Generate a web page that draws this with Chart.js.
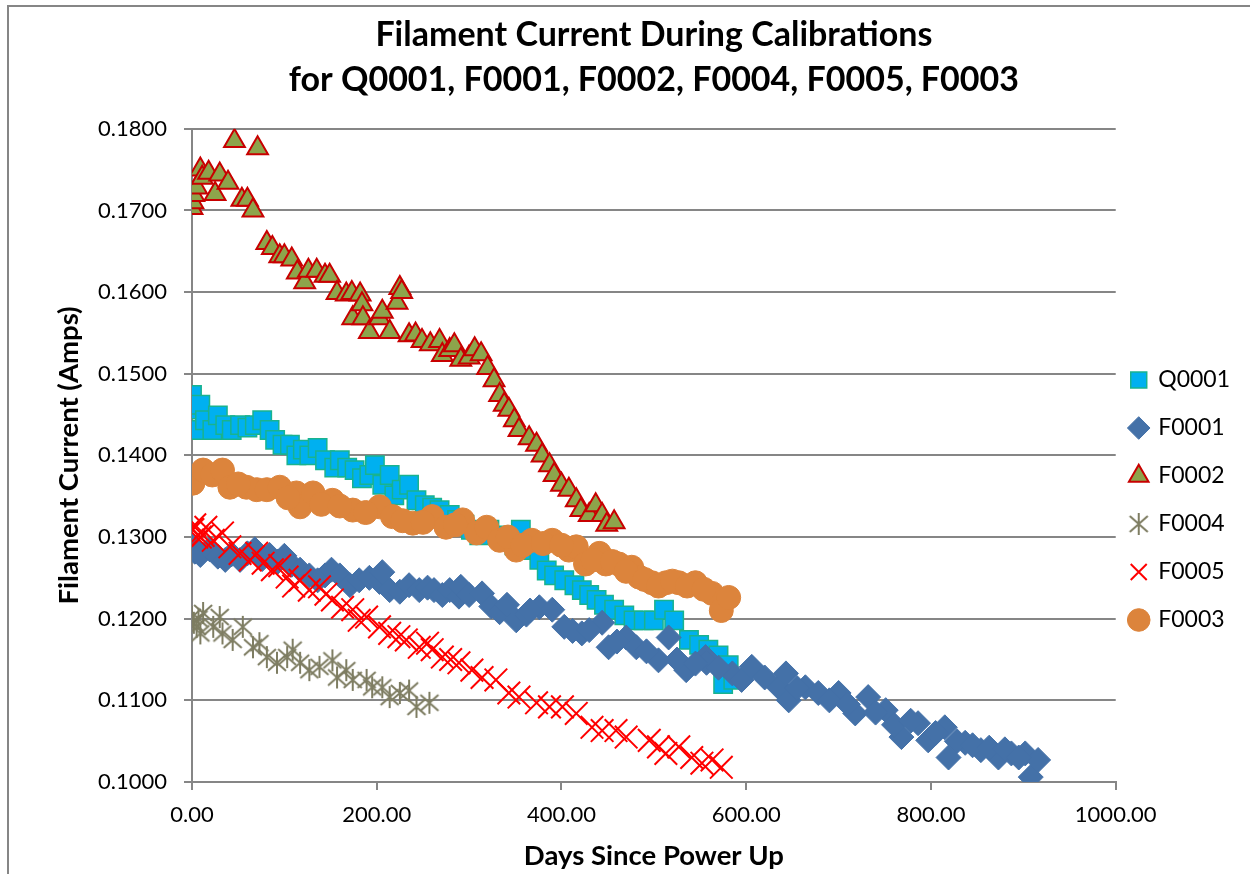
<!DOCTYPE html>
<html>
<head>
<meta charset="utf-8">
<title>Filament Current During Calibrations</title>
<script src="https://cdn.jsdelivr.net/npm/chart.js@4.4.0/dist/chart.umd.min.js"></script>
<style>
  html, body { margin: 0; padding: 0; background: #fff; overflow: hidden; }
  #frame { position: absolute; left: 7px; top: 5px; width: 1241px; height: 880px; border: 2px solid #868686; }
  canvas { display: block; }
</style>
</head>
<body>
<div id="frame"><canvas id="myChart"></canvas></div>
<script>
// series names, in legend order
const seriesNames = ["Q0001", "F0001", "F0002", "F0004", "F0005", "F0003"];

// Q0001
const q0001Days = [0,0,3,9,14,22,28,36,43,52, 60,68,76,84,90,98,106,113,120,127,
  136,144,154,160,168,176,184,192,198,206, 214,219,227,235,243,252,260,268,279,287,
  295,302,311,322,333,341,349,356,365,376, 384,392,403,414,422,430,438,446,457,468,
  478,489,500,511,522,538,549,559,570,575, 581,586];
const q0001Amps = [0.1474,0.1456,0.1431,0.1462,0.1443,0.1431,0.1449,0.1437,0.1431,0.1437,
  0.1434,0.1437,0.1443,0.1431,0.1419,0.1413,0.1413,0.1400,0.1407,0.1400,
  0.1409,0.1394,0.1385,0.1394,0.1385,0.1382,0.1372,0.1376,0.1388,0.1364,
  0.1376,0.1351,0.1358,0.1364,0.1345,0.1339,0.1336,0.1333,0.1327,0.1321,
  0.1315,0.1309,0.1302,0.1309,0.1302,0.1296,0.1290,0.1309,0.1284,0.1272,
  0.1259,0.1253,0.1247,0.1241,0.1235,0.1229,0.1223,0.1217,0.1211,0.1204,
  0.1198,0.1198,0.1198,0.1211,0.1198,0.1174,0.1168,0.1162,0.1155,0.1120,
  0.1143,0.1125];

// F0001
const f0001Days = [0,3,9,19,28,36,43,52,60,68, 76,84,93,100,108,117,127,136,144,151,
  160,171,181,192,203,206,214,225,235,246, 255,262,271,279,289,291,300,314,324,333,
  341,351,376,390,403,422,444,451,470,481, 505,516,535,556,557,585,595,606,635,643,
  646,664,678,700,718,732,751,768,786,797, 815,819,837,854,873,887,902,908,916,
  362,366,412,430,460,492,525,545,570,620, 655,690,710,740,760,778,805,828,845,863, 880,895];
const f0001Amps = [0.1290,0.1282,0.1278,0.1285,0.1276,0.1272,0.1279,0.1272,0.1280,0.1285,
  0.1273,0.1278,0.1270,0.1277,0.1266,0.1260,0.1253,0.1247,0.1253,0.1260,
  0.1253,0.1241,0.1247,0.1250,0.1245,0.1257,0.1235,0.1233,0.1241,0.1235,
  0.1238,0.1235,0.1229,0.1235,0.1227,0.1239,0.1229,0.1231,0.1215,0.1208,
  0.1217,0.1198,0.1214,0.1211,0.1190,0.1182,0.1195,0.1165,0.1177,0.1165,
  0.1149,0.1177,0.1137,0.1153,0.1146,0.1133,0.1125,0.1141,0.1116,0.1133,
  0.1100,0.1116,0.1109,0.1109,0.1084,0.1104,0.1088,0.1055,0.1072,0.1051,
  0.1067,0.1030,0.1048,0.1039,0.1030,0.1035,0.1035,0.1006,0.1027,
  0.1205,0.1210,0.1185,0.1186,0.1172,0.1160,0.1150,0.1145,0.1140,0.1128,
  0.1115,0.1100,0.1095,0.1085,0.1070,0.1075,0.1060,0.1050,0.1045,0.1042, 0.1040,0.1030];

// F0002
const f0002Days = [0,1,2,5,9,11,18,25,30,39, 46,54,60,66,71,81,87,95,100,108,
  114,122,126,135,144,149,157,167,173,174, 182,184,185,192,203,206,214,222,225,227,
  235,242,249,258,268,271,279,284,291,300, 306,313,320,327,333,338,343,349,354,365,
  373,379,387,392,400,408,416,421,430,437, 444,449,457];
const f0002Amps = [0.1703,0.1710,0.1719,0.1728,0.1750,0.1740,0.1746,0.1720,0.1744,0.1734,
  0.1785,0.1713,0.1713,0.1700,0.1776,0.1660,0.1654,0.1644,0.1644,0.1640,
  0.1624,0.1612,0.1626,0.1626,0.1620,0.1620,0.1599,0.1597,0.1599,0.1568,
  0.1597,0.1585,0.1568,0.1551,0.1568,0.1576,0.1551,0.1587,0.1605,0.1600,
  0.1547,0.1548,0.1540,0.1536,0.1540,0.1523,0.1529,0.1535,0.1517,0.1520,
  0.1530,0.1524,0.1507,0.1492,0.1474,0.1462,0.1456,0.1443,0.1431,0.1421,
  0.1413,0.1400,0.1388,0.1376,0.1364,0.1358,0.1345,0.1333,0.1327,0.1339,
  0.1327,0.1315,0.1318];

// F0004
const f0004Days = [0,2,5,7,9,12,23,30,33,44, 55,66,73,81,92,103,109,117,127,138,
  152,157,167,174,189,195,206,214,225,235, 243,257];
const f0004Amps = [0.1202,0.1195,0.1190,0.1200,0.1182,0.1207,0.1190,0.1202,0.1182,0.1174,
  0.1190,0.1165,0.1170,0.1153,0.1146,0.1153,0.1162,0.1146,0.1137,0.1141,
  0.1149,0.1128,0.1137,0.1125,0.1125,0.1116,0.1116,0.1104,0.1109,0.1112,
  0.1092,0.1097];

// F0005
const f0005Days = [0,1,3,5,9,12,15,23,33,41, 52,63,70,77,87,95,103,110,117,127,
  138,145,152,163,174,181,189,203,214,224, 232,246,255,260,271,280,289,303,314,329,
  343,354,373,387,401,416,433,444,459,470, 495,505,513,527,541,552,563,573];
const f0005Amps = [0.1310,0.1309,0.1315,0.1300,0.1300,0.1302,0.1312,0.1296,0.1305,0.1288,
  0.1280,0.1272,0.1280,0.1268,0.1260,0.1265,0.1251,0.1240,0.1247,0.1235,
  0.1239,0.1230,0.1223,0.1214,0.1211,0.1198,0.1202,0.1190,0.1182,0.1178,
  0.1174,0.1165,0.1170,0.1162,0.1153,0.1150,0.1146,0.1137,0.1128,0.1125,
  0.1109,0.1104,0.1097,0.1092,0.1092,0.1084,0.1067,0.1063,0.1063,0.1055,
  0.1051,0.1043,0.1035,0.1043,0.1030,0.1023,0.1027,0.1018];

// F0003
const f0003Days = [0,1,12,22,33,41,59,70,81,95, 113,117,131,152,174,203,217,239,260,275,
  293,308,319,333,351,368,390,408,416,426, 441,448,462,476,484,498,513,527,545,563,
  573,581, 50,104,140,160,188,228,250,285, 342,358,380,400,434,455,470,490,505,520, 536,554];
const f0003Amps = [0.1370,0.1366,0.1382,0.1376,0.1382,0.1361,0.1361,0.1358,0.1358,0.1361,
  0.1354,0.1337,0.1354,0.1345,0.1333,0.1337,0.1325,0.1317,0.1325,0.1312,
  0.1321,0.1305,0.1312,0.1296,0.1284,0.1296,0.1296,0.1284,0.1288,0.1267,
  0.1280,0.1267,0.1267,0.1263,0.1251,0.1244,0.1244,0.1244,0.1244,0.1231,
  0.1210,0.1226, 0.1365,0.1348,0.1340,0.1338,0.1330,0.1320,0.1318,0.1315,
  0.1300,0.1290,0.1292,0.1290,0.1272,0.1270,0.1258,0.1248,0.1240,0.1246, 0.1240,0.1236];

// axis ticks
const xMin = 0, xMax = 1000, xStep = 200;
const yMin = 0.1, yMax = 0.18, yStep = 0.01;

function toPoints(days, amps) {
  return days.map(function(d, i) { return {x: d, y: amps[i]}; });
}

const gridGray = "#868686";
const fontName = "Lato";

// six-armed asterisk marker (vertical bar + X), like the original F0004 marker
function makeAsterisk(color) {
  const c = document.createElement("canvas");
  c.width = 24; c.height = 24;
  const g = c.getContext("2d");
  g.strokeStyle = color;
  g.lineWidth = 2;
  g.beginPath();
  g.moveTo(12, 1); g.lineTo(12, 23);
  g.moveTo(3, 4); g.lineTo(21, 20);
  g.moveTo(21, 4); g.lineTo(3, 20);
  g.stroke();
  return c;
}

// nudges the legend into the place it has in the original
const legendNudge = {
  id: "legendNudge",
  afterLayout: function(chart) {
    const lg = chart.legend;
    lg.left -= 10; lg.right -= 10;
    lg.top += 58; lg.bottom += 58;
  }
};

const data = {
  datasets: [
    { label: seriesNames[0], data: toPoints(q0001Days, q0001Amps), order: 6,
      pointStyle: "rect", pointRadius: 13, backgroundColor: "#00B0F0", borderColor: "#19B38E", borderWidth: 1.5 },
    { label: seriesNames[1], data: toPoints(f0001Days, f0001Amps), order: 5,
      pointStyle: "rectRot", pointRadius: 12.5, backgroundColor: "#4471A8", borderColor: "#4471A8", borderWidth: 1 },
    { label: seriesNames[2], data: toPoints(f0002Days, f0002Amps), order: 4,
      pointStyle: "triangle", pointRadius: 12, backgroundColor: "#8DA44B", borderColor: "#C80000", borderWidth: 2 },
    { label: seriesNames[3], data: toPoints(f0004Days, f0004Amps), order: 3,
      pointStyle: makeAsterisk("#7E7D62"), pointRadius: 11, backgroundColor: "#7E7D62", borderColor: "#7E7D62", borderWidth: 2 },
    { label: seriesNames[4], data: toPoints(f0005Days, f0005Amps), order: 2,
      pointStyle: "crossRot", pointRadius: 16, backgroundColor: "#FF0000", borderColor: "#FF0000", borderWidth: 2 },
    { label: seriesNames[5], data: toPoints(f0003Days, f0003Amps), order: 1,
      pointStyle: "circle", pointRadius: 12, backgroundColor: "#DC843C", borderColor: "#DC843C", borderWidth: 1 }
  ]
};

const config = {
  type: "scatter",
  data: data,
  options: {
    responsive: true,
    maintainAspectRatio: false,
    animation: false,
    layout: { padding: { left: 40, right: 0, top: 0, bottom: 10 } },
    plugins: {
      tooltip: { enabled: false },
      title: {
        display: true,
        fullSize: false,
        text: ["Filament Current During Calibrations", "for Q0001, F0001, F0002, F0004, F0005, F0003"],
        color: "#000",
        font: { family: fontName, size: 34, weight: "bold", lineHeight: 1.32 },
        padding: { top: 6, bottom: 26 }
      },
      legend: {
        position: "right",
        labels: {
          usePointStyle: true,
          boxWidth: 16,
          boxHeight: 16,
          padding: 25,
          color: "#000",
          font: { family: fontName, size: 23 },
          sort: function(a, b) { return a.datasetIndex - b.datasetIndex; }
        }
      }
    },
    scales: {
      x: {
        type: "linear",
        min: xMin, max: xMax,
        afterFit: function(s) { s.height = 95; },
        ticks: {
          stepSize: xStep, color: "#000", padding: 12,
          font: { family: fontName, size: 22 },
          callback: function(v) { return v.toFixed(2); }
        },
        grid: { drawOnChartArea: false, drawTicks: true, tickLength: 8, color: gridGray, lineWidth: 2 },
        border: { display: true, color: gridGray, width: 2 },
        title: {
          display: true, text: "Days Since Power Up", color: "#000",
          font: { family: fontName, size: 27.5, weight: "bold" }, padding: { top: 4, bottom: 4 }
        }
      },
      y: {
        type: "linear",
        min: yMin, max: yMax,
        afterFit: function(s) { s.width = 143; },
        ticks: {
          stepSize: yStep, color: "#000", padding: 17,
          font: { family: fontName, size: 22 },
          callback: function(v) { return v.toFixed(4); }
        },
        grid: { drawTicks: true, tickLength: 8, color: gridGray, lineWidth: 2 },
        border: { display: true, color: gridGray, width: 2 },
        title: {
          display: true, text: "Filament Current (Amps)", color: "#000",
          font: { family: fontName, size: 27.5, weight: "bold" }, padding: { top: 4, bottom: 4 }
        }
      }
    }
  },
  plugins: [legendNudge]
};

var myChart = new Chart(document.getElementById("myChart"), config);
</script>
</body>
</html>
